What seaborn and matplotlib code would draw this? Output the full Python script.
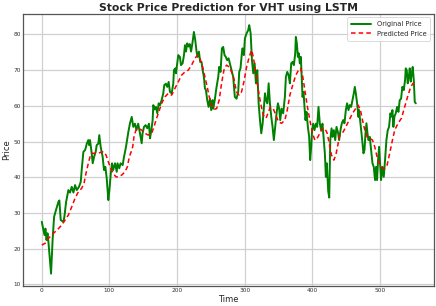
import matplotlib
matplotlib.use("Agg")
import matplotlib.pyplot as plt
import seaborn as sns
import pandas as pd

# Original price (time index, value)
orig_t = [0, 2.4, 4, 5.4, 7, 8.5, 10, 13.7, 16, 18.2, 21, 24.6, 26, 28, 32, 33.4, 36, 39.3, 41.7, 44.3,
          46.8, 49.2, 51.7, 55, 57.6, 59, 61.5, 64, 65.4, 66.5, 68.8, 70, 71.3, 73.8, 75.3, 77.3, 79.7,
          81.2, 83.6, 85, 87.1, 90, 92, 94, 96, 98.4, 100, 102, 103.8, 105.5, 108.3, 110.8, 112, 114.6,
          116.5, 119.6, 121.6, 124.5, 126.5, 128, 130.4, 133, 135.3, 137.7, 140, 142.5, 145.2, 147.7,
          149, 151.1, 153.5, 156, 158.5, 160, 162, 163.9, 164.9, 166.8, 168.8, 170.8, 172.8, 174.8,
          177.2, 179.6, 181.1, 183.5, 185.5, 187.6, 189.5, 192, 194.4, 195.4, 197.4, 198.4, 200.3,
          201.8, 204.2, 205.8, 208.2, 210.2, 211.7, 213.2, 215, 217, 218.7, 220.7, 223, 224.9, 226.9,
          228.9, 230.4, 232.3, 234.2, 236.2, 237.8, 239.7, 241.2, 242.7, 244.6, 246.6, 248.6, 250.5,
          252.5, 253.5, 256, 258.4, 260.9, 262.3, 264.3, 266.3, 268.2, 270.2, 272.1, 274, 276.2, 278,
          280.6, 283, 285.4, 287.9, 290.4, 291.9, 293.8, 295.8, 296.8, 298.8, 300.3, 302.8, 305.2,
          306.7, 308.8, 310.7, 312.7, 314.7, 316.6, 318.6, 320.6, 322.6, 324.5, 326.5, 328.5, 330,
          331.5, 333.5, 335.4, 337.3, 339.3, 341.2, 343.1, 345.1, 347.1, 349.1, 351, 352.5, 354.5,
          356.9, 359.4, 360.9, 362.9, 364.9, 366.8, 368.8, 370.8, 372.7, 374.7, 375.6, 377.1, 378.6,
          380, 381.5, 383, 384.5, 385.5, 387, 388.4, 389.9, 391.4, 393.4, 395.3, 396.8, 398.3, 399.7,
          401.2, 403.2, 405.2, 407.1, 409.1, 411.1, 413, 415, 417, 418.5, 420, 421.4, 423.5, 425,
          426.5, 428.4, 430, 431.8, 433.8, 435.7, 438.2, 439.6, 441.6, 443.6, 445.6, 447.5, 449.5,
          451.4, 453.4, 455.4, 457.4, 459.4, 461.3, 462.8, 464.3, 466.2, 468.2, 469.2, 470.6, 472.7,
          474.1, 475.6, 477.1, 478.6, 480, 481.5, 483, 484.9, 486.9, 488.9, 490.8, 492.7, 494.2,
          495.7, 497.2, 498.7, 500.1, 501.6, 503.6, 505.6, 507.5, 509.5, 511.5, 513.4, 515.4, 516.9,
          518.4, 519.8, 521.4, 523.3, 525.3, 527.3, 529.2, 531.2, 533.1, 535.1, 537.1, 538.1, 539.6,
          541, 542.6, 544, 545.5, 547, 548.4, 550, 551.4, 553]
orig_v = [27.5, 25.2, 23.8, 25.6, 22.4, 24.3, 21.5, 13.0, 22.4, 28.9, 30.8, 33.1, 33.5, 28.0, 27.5, 28.9,
          33.1, 36.4, 35.7, 37.3, 35.7, 37.8, 36.4, 37.3, 38.7, 42.0, 47.1, 47.6, 48.5, 49.4, 50.4, 49.0,
          50.4, 46.7, 43.9, 45.7, 47.1, 49.0, 49.4, 51.8, 48.5, 45.7, 42.0, 42.9, 39.7, 33.6, 36.4, 41.0,
          43.9, 42.0, 43.9, 41.5, 43.9, 42.5, 43.9, 43.4, 45.7, 48.5, 50.9, 52.7, 55.1, 56.9, 54.1, 55.0,
          53.2, 55.0, 52.3, 49.5, 52.3, 54.1, 54.6, 53.7, 55.0, 50.9, 53.2, 56.0, 60.2, 59.0, 59.7, 57.9,
          60.7, 60.2, 61.6, 63.5, 65.8, 66.2, 65.3, 66.7, 63.9, 63.5, 66.2, 70.0, 70.5, 69.1, 71.9, 74.2,
          73.7, 71.4, 71.9, 74.2, 77.0, 75.2, 77.5, 76.6, 77.3, 75.2, 77.9, 80.7, 78.4, 75.1, 73.7, 75.2,
          72.3, 72.3, 70.0, 68.1, 64.9, 64.4, 61.6, 59.7, 62.0, 58.8, 61.6, 59.2, 62.0, 65.3, 68.1, 70.9,
          69.5, 76.1, 76.5, 74.2, 73.7, 72.8, 73.3, 71.9, 70.0, 68.1, 62.5, 62.0, 63.9, 69.5, 70.5, 74.7,
          76.1, 74.2, 78.9, 80.3, 81.2, 82.6, 80.3, 72.8, 69.1, 71.9, 66.3, 70.0, 60.7, 56.0, 52.3, 55.0,
          59.7, 63.5, 61.6, 60.7, 66.3, 60.7, 56.9, 54.1, 50.4, 54.1, 57.9, 60.7, 59.2, 56.0, 59.2, 57.9,
          62.5, 68.1, 69.5, 68.6, 66.3, 71.9, 72.3, 71.4, 74.7, 79.3, 77.5, 73.7, 74.7, 71.9, 73.7, 67.2,
          62.5, 63.9, 59.7, 56.0, 58.3, 54.1, 51.3, 44.8, 48.5, 53.2, 55.0, 53.2, 55.0, 54.1, 59.7, 55.0,
          53.2, 55.0, 50.4, 46.7, 40.1, 43.9, 36.0, 34.3, 50.4, 53.7, 51.3, 53.2, 50.4, 54.1, 52.3, 50.4,
          53.2, 55.1, 56.0, 55.1, 58.8, 60.7, 58.8, 60.2, 59.7, 61.6, 63.5, 65.3, 63.5, 60.7, 56.9, 58.8,
          56.0, 52.3, 49.5, 46.7, 47.6, 52.3, 55.1, 52.3, 50.4, 51.3, 47.6, 43.9, 42.9, 39.2, 42.9, 39.2,
          44.8, 48.5, 43.9, 39.2, 42.9, 40.1, 44.8, 50.4, 53.2, 54.1, 57.9, 57.0, 58.8, 54.1, 57.0, 57.9,
          59.7, 58.3, 61.6, 62.0, 65.3, 64.4, 67.2, 70.5, 70.0, 66.3, 68.1, 70.5, 66.8, 69.1, 70.9, 67.2,
          61.1, 60.7]

# Predicted price (time index, value)
pred_t = [0, 5, 10, 14.6, 19.6, 24.6, 29.5, 34.4, 39.3, 44.3, 49.2, 54, 59, 62.5, 65.4, 68.8, 71.3, 73.8,
          78.6, 83.6, 88.6, 92, 95, 98.4, 101.9, 105.5, 109.7, 113, 118.2, 123, 126.5, 129.4, 131.9,
          134.4, 136.3, 139.2, 142.7, 147.7, 152.6, 157.5, 162.4, 165.9, 168.8, 172.3, 177.2, 182.1,
          187, 192, 196.9, 201.8, 206.8, 211.7, 216.6, 221.5, 226.4, 230.4, 233.8, 237.8, 241.2,
          244.6, 247.6, 251, 254.5, 258.4, 262.3, 265.8, 269.3, 273.1, 277, 280.6, 284, 287.9, 291.9,
          295.3, 298.8, 302.8, 306.7, 310.2, 312.7, 316.6, 320.1, 323.6, 327.3, 331.5, 334.4, 337.8,
          342, 346, 350, 354.5, 359.4, 362.9, 366.8, 371.7, 375.6, 379.6, 382.5, 385.5, 388.9, 392.3,
          396.3, 400.3, 403.7, 407.1, 411.1, 415, 418.5, 422, 424.9, 428.3, 431.8, 434.7, 438.1,
          440.6, 445.6, 449.5, 454.4, 459.4, 464.3, 467.7, 471.2, 474.1, 477.6, 481, 484.9, 488.9,
          492.3, 495.7, 499.7, 503.6, 507, 510.5, 514.4, 518.4, 521.8, 526.7, 531.7, 536.6, 541.5,
          545.5, 548.9, 550.4]
pred_v = [21.0, 21.5, 22.9, 23.8, 24.7, 25.6, 26.6, 28.0, 29.4, 31.7, 34.1, 35.9, 36.9, 38.3, 41.1, 43.9,
          45.7, 46.7, 46.7, 46.7, 47.1, 47.1, 46.2, 44.3, 42.5, 41.1, 40.1, 40.1, 40.6, 41.5, 42.9, 45.7,
          47.0, 48.5, 51.3, 53.2, 53.7, 53.2, 52.3, 51.8, 52.3, 54.1, 56.0, 57.9, 60.7, 62.5, 63.5, 63.0,
          64.9, 66.7, 68.6, 69.5, 70.0, 71.4, 73.3, 74.2, 73.3, 70.9, 68.1, 65.3, 62.5, 60.2, 59.0, 59.2,
          61.6, 66.3, 70.0, 71.4, 70.9, 69.5, 67.6, 63.9, 63.0, 63.9, 66.7, 70.9, 73.7, 75.6, 73.7, 69.1,
          64.4, 60.7, 57.4, 56.5, 57.9, 59.6, 59.3, 57.4, 55.5, 55.1, 56.0, 58.8, 63.0, 66.3, 68.6, 70.0,
          70.5, 68.6, 64.4, 60.2, 56.0, 52.3, 50.4, 50.9, 52.3, 53.7, 53.7, 52.3, 49.5, 46.2, 44.8, 46.2,
          49.5, 51.8, 52.7, 54.1, 56.0, 57.9, 59.3, 60.2, 58.8, 56.0, 53.2, 51.3, 50.9, 50.4, 48.5, 45.7,
          43.4, 42.5, 42.5, 43.4, 46.7, 50.4, 53.2, 55.1, 56.5, 59.7, 63.0, 65.3, 66.3, 66.3]

yticks = [10, 20, 30, 40, 50, 60, 70, 80]
xticks = [0, 100, 200, 300, 400, 500]

sns.set_theme(style="whitegrid")
plt.rcParams["font.family"] = ["DejaVu Sans"]

orig_df = pd.DataFrame({"Time": orig_t, "Price": orig_v})
pred_df = pd.DataFrame({"Time": pred_t, "Price": pred_v})

fig = plt.figure(figsize=(4.36, 3.06), dpi=100)
ax = fig.add_axes([0.053, 0.065, 0.942, 0.889])

sns.lineplot(data=orig_df, x="Time", y="Price", ax=ax, color="green", linewidth=1.4,
             label="Original Price")
sns.lineplot(data=pred_df, x="Time", y="Price", ax=ax, color="red", linewidth=1.1,
             linestyle=(0, (3, 2)), label="Predicted Price")

ax.set_xlim(-27.6, 579.6)
ax.set_ylim(9.5, 85.7)
ax.set_xticks(xticks)
ax.set_yticks(yticks)
ax.tick_params(axis="both", labelsize=4.2, pad=1.5, length=0, colors="#333333")
ax.grid(True, color="#d0d0d0", linewidth=0.9)
for s in ax.spines.values():
    s.set_color("#555555")
    s.set_linewidth(0.9)

ax.set_title("Stock Price Prediction for VHT using LSTM", fontsize=7.8, fontweight="bold", pad=2)
ax.set_xlabel("Time", fontsize=6, labelpad=1)
ax.set_ylabel("Price", fontsize=6, labelpad=2)
leg = ax.legend(loc="upper right", fontsize=4.8, frameon=True, handlelength=3.0,
                borderpad=0.6, labelspacing=0.5)
leg.get_frame().set_edgecolor("#cccccc")
leg.get_frame().set_linewidth(0.6)

fig.savefig("out.png", dpi=100)
